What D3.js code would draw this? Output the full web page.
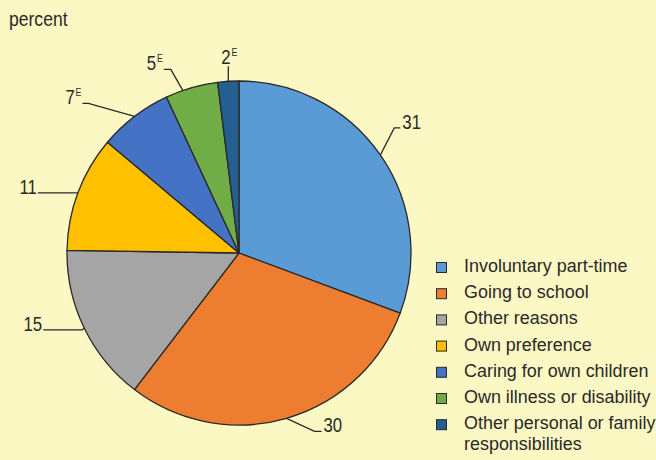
<!DOCTYPE html>
<html>
<head>
<meta charset="utf-8">
<script src="https://cdn.jsdelivr.net/npm/d3@7"></script>
<style>
  body { margin: 0; background: #fbf8c4; }
  svg { display: block; font-family: "Liberation Sans", Arial, sans-serif; }
</style>
</head>
<body>
<div id="chart"></div>
<script>
let categories = ["Involuntary part-time", "Going to school", "Other reasons", "Own preference",
  "Caring for own children", "Own illness or disability", "Other personal or family responsibilities"];
let values = [31, 30, 15, 11, 7, 5, 2];
let estimated = [false, false, false, false, true, true, true];

let color = ["#5b9bd5", "#ed7d31", "#a5a5a5", "#ffc000", "#4472c4", "#70ad47", "#255e91"];

// where on the slice the leader starts (fraction of its angle), the elbow offset and the horizontal tail
let leader = [
  { at: 0.5, dx: 14, dy: -27, tail: 6 },
  { at: 0.5, dx: 28, dy: 13, tail: 7 },
  { at: 0.5, dx: -2, dy: 2, tail: -39 },
  { at: 0.5, dx: 0, dy: 0, tail: -40 },
  { at: 0.5, dx: -46, dy: -13, tail: -6 },
  { at: 0.33, dx: -12, dy: -21, tail: -7 },
  { at: 0.5, dx: 0, dy: -15, tail: 0 }
];

let width = 656, height = 460;
let cx = 239, cy = 253, r = 172;
let ink = "#2b2828";

let svg = d3.select("#chart").append("svg")
  .attr("width", width)
  .attr("height", height);

svg.append("rect").attr("width", width).attr("height", height).attr("fill", "#fbf8c4");

// текст с горизонтальным сжатием (под узкий шрифт оригинала)
function narrowText(parent, x, y, size, sx, anchor) {
  return parent.append("text")
    .attr("transform", "translate(" + x + "," + y + ") scale(" + sx + ",1)")
    .attr("font-size", size)
    .attr("fill", ink)
    .attr("text-anchor", anchor || "start");
}

narrowText(svg, 9, 26, 19.5, 0.9).text("percent");

let pie = d3.pie().sort(null);
let arc = d3.arc().innerRadius(0).outerRadius(r);

let g = svg.append("g").attr("transform", "translate(" + cx + "," + cy + ")");

let arcs = pie(values);

g.selectAll("path")
  .data(arcs)
  .enter().append("path")
  .attr("d", arc)
  .attr("fill", function(d, i) { return color[i]; })
  .attr("stroke", ink)
  .attr("stroke-width", 1.3)
  .attr("stroke-linejoin", "round");

/* Подписи с выносками */
arcs.forEach(function(d, i) {
  let L = leader[i];
  let a = d.startAngle + (d.endAngle - d.startAngle) * L.at;
  let x0 = Math.sin(a) * r, y0 = -Math.cos(a) * r;
  let x1 = x0 + L.dx, y1 = y0 + L.dy;
  let x2 = x1 + L.tail;
  g.append("path")
    .attr("d", "M" + x0 + "," + y0 + "L" + x1 + "," + y1 + "L" + x2 + "," + y1)
    .attr("fill", "none")
    .attr("stroke", ink)
    .attr("stroke-width", 1.3);

  let t;
  if (L.tail > 0) {
    t = narrowText(g, x2 + 2, y1 + 1, 21, 0.8, "start");
  } else if (L.tail < 0) {
    t = narrowText(g, x2 - 1, y1 + 1, 21, 0.8, "end");
  } else {
    t = narrowText(g, x2 + 1, y1 - 2, 21, 0.8, "middle");
  }
  t.append("tspan").text(values[i]);
  if (estimated[i]) {
    t.append("tspan").attr("font-size", 11).attr("dx", 1).attr("dy", -8).text("E");
  }
});

/* Легенда */
let legend = svg.append("g").attr("transform", "translate(436,262)");
let rowH = 26.2;

categories.forEach(function(c, i) {
  let row = legend.append("g").attr("transform", "translate(0," + (i * rowH) + ")");
  row.append("rect")
    .attr("x", 0.5).attr("y", 0.5).attr("width", 10).attr("height", 10)
    .attr("fill", color[i])
    .attr("stroke", ink)
    .attr("stroke-width", 1);
  let lines = c === "Other personal or family responsibilities"
    ? ["Other personal or family", "responsibilities"] : [c];
  lines.forEach(function(w, j) {
    narrowText(row, 28, 10 + j * 21, 18.5, 0.97).text(w);
  });
});
</script>
</body>
</html>
